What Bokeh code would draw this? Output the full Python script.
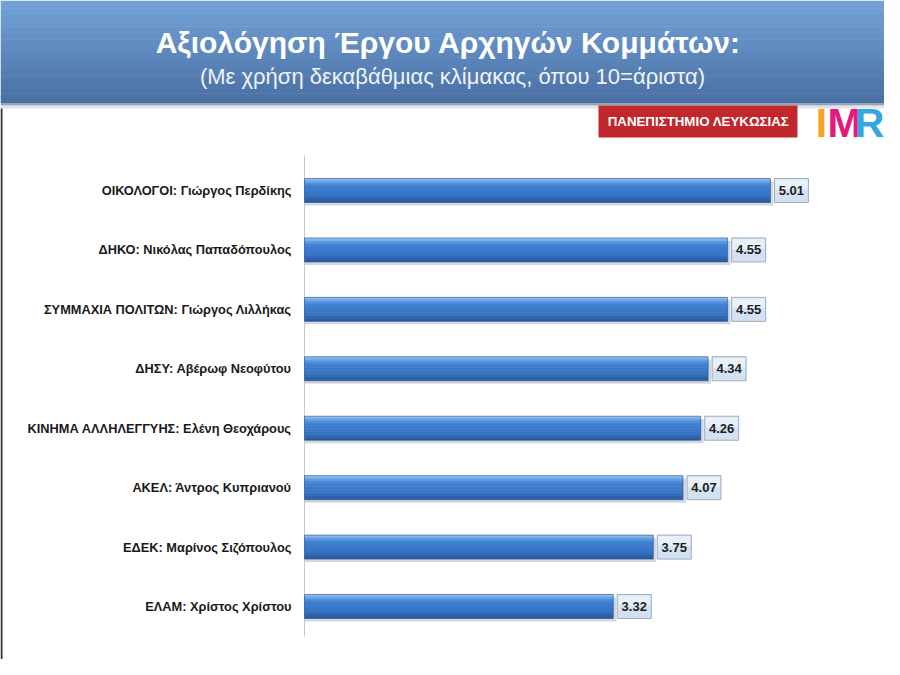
from bokeh.plotting import figure
from bokeh.models import Range1d
from bokeh.core.properties import value
from bokeh.embed import file_html
from bokeh.resources import INLINE

# ---- data ----
categories = [
    "ΟΙΚΟΛΟΓΟΙ: Γιώργος Περδίκης",
    "ΔΗΚΟ: Νικόλας Παπαδόπουλος",
    "ΣΥΜΜΑΧΙΑ ΠΟΛΙΤΩΝ: Γιώργος Λιλλήκας",
    "ΔΗΣΥ: Αβέρωφ Νεοφύτου",
    "ΚΙΝΗΜΑ ΑΛΛΗΛΕΓΓΥΗΣ: Ελένη Θεοχάρους",
    "ΑΚΕΛ: Άντρος Κυπριανού",
    "ΕΔΕΚ: Μαρίνος Σιζόπουλος",
    "ΕΛΑΜ: Χρίστος Χρίστου",
]
scores = [5.01, 4.55, 4.55, 4.34, 4.26, 4.07, 3.75, 3.32]
title_text = "Αξιολόγηση  Έργου Αρχηγών Κομμάτων:"
subtitle_text = "(Με χρήση δεκαβάθμιας κλίμακας, όπου 10=άριστα)"
badge_text = "ΠΑΝΕΠΙΣΤΗΜΙΟ ΛΕΥΚΩΣΙΑΣ"
logo_letters = ["I", "M", "R"]
logo_colors = ["#f6a623", "#e5197c", "#35a7df"]

# ---- geometry (pixel -> data helpers) ----
W, H = 884, 659
X0 = 304           # pixel x of value 0
PX_PER_UNIT = 93.0
ROW0 = 190         # pixel y of first row center
ROW_STEP = 59.43

def dx(px):
    return (px - X0) / PX_PER_UNIT

def dy(py):
    return (py - ROW0) / ROW_STEP

ux = 1.0 / PX_PER_UNIT
uy = 1.0 / ROW_STEP

p = figure(width=W, height=H, output_backend="svg", toolbar_location=None,
           x_range=Range1d(dx(0), dx(W)),
           y_range=Range1d(dy(H), dy(0)),
           min_border=0, background_fill_color="white",
           border_fill_color="white", outline_line_color=None)
p.axis.visible = False
p.grid.visible = False

xl, xr = dx(0), dx(W)

def mix(c1, c2, t):
    return "#%02x%02x%02x" % tuple(int(round(c1[j] + (c2[j] - c1[j]) * t)) for j in range(3))

# header gradient band
top_c = (0x72, 0xA2, 0xD8)
bot_c = (0x4A, 0x6F, 0xA3)
n = 40
h_top, h_bot = 0, 103
tops, bots, cols = [], [], []
for k in range(n):
    t = k / (n - 1)
    y1 = h_top + (h_bot - h_top) * k / n
    y2 = h_top + (h_bot - h_top) * (k + 1) / n + 0.6
    tops.append(dy(y1)); bots.append(dy(min(y2, h_bot))); cols.append(mix(top_c, bot_c, t))
p.quad(left=xl, right=xr, top=tops, bottom=bots, fill_color=cols, line_color=None)
# header shadow
p.quad(left=xl, right=xr, top=dy(103), bottom=dy(105), fill_color="#7d8ca2", line_color=None, fill_alpha=0.8)
p.quad(left=xl, right=xr, top=dy(105), bottom=dy(108), fill_color="#cdd3dc", line_color=None, fill_alpha=0.6)

p.text(x=[dx(452)], y=[dy(42)], text=[title_text],
       text_font=value("Liberation Sans"), text_font_style="bold", text_font_size="30px",
       text_color="white", text_align="center", text_baseline="middle")
p.text(x=[dx(452)], y=[dy(76)], text=[subtitle_text],
       text_font=value("Liberation Sans"), text_font_size="22px",
       text_color="#eef3fa", text_align="center", text_baseline="middle")

# left page border
p.segment(x0=[dx(1)], y0=[dy(108)], x1=[dx(1)], y1=[dy(H)], line_color="#333333", line_width=2)

# badge
p.quad(left=dx(598), right=dx(797), top=dy(105), bottom=dy(137), fill_color="#c1272d", line_color=None)
p.text(x=[dx(698)], y=[dy(121)], text=[badge_text], text_font=value("Liberation Sans"),
       text_font_style="bold", text_font_size="13.3px", text_color="white",
       text_align="center", text_baseline="middle")
# IMR logo
lx = [dx(821), dx(844), dx(869)]
p.text(x=lx, y=[dy(122)] * 3, text=logo_letters, text_color=logo_colors,
       text_font=value("Liberation Sans"), text_font_style="bold", text_font_size="41px",
       text_align="center", text_baseline="middle")

# axis line
p.segment(x0=[0], y0=[dy(155)], x1=[0], y1=[dy(636)], line_color="#c8c8c8", line_width=1)

rows = list(range(len(categories)))
# shadow
p.quad(left=[0] * len(rows), right=[s + 3 * ux for s in scores],
       top=[r - 9 * uy for r in rows], bottom=[r + 15 * uy for r in rows],
       fill_color="#b8bec8", fill_alpha=0.6, line_color=None)
# bar gradient layers
stops = [(0.0, (0x9c, 0xc8, 0xf2)), (0.12, (0x6a, 0xa4, 0xe6)), (0.3, (0x3f, 0x80, 0xd2)),
         (0.7, (0x37, 0x74, 0xc4)), (1.0, (0x26, 0x55, 0x96))]
def grad(t):
    for (t1, c1), (t2, c2) in zip(stops[:-1], stops[1:]):
        if t <= t2:
            return mix(c1, c2, (t - t1) / (t2 - t1))
    return mix(stops[-1][1], stops[-1][1], 0)
nb = 16
for k in range(nb):
    a = -12 + 24 * k / nb
    b = -12 + 24 * (k + 1) / nb + (0.5 if k < nb - 1 else 0)
    c = grad((k + 0.5) / nb)
    p.quad(left=[0] * len(rows), right=scores,
           top=[r + a * uy for r in rows], bottom=[r + b * uy for r in rows],
           fill_color=c, line_color=None)
p.quad(left=[0] * len(rows), right=scores, top=[r - 12 * uy for r in rows],
       bottom=[r + 12 * uy for r in rows], fill_color=None, line_color="#2f5f9c", line_width=0.7)

# value boxes
p.quad(left=[s + 4 * ux for s in scores], right=[s + 38 * ux for s in scores],
       top=[r - 12 * uy for r in rows], bottom=[r + 12 * uy for r in rows],
       fill_color="#d3e1f2", line_color="#9fadbf", line_width=1)
p.quad(left=[s + 5 * ux for s in scores], right=[s + 37 * ux for s in scores],
       top=[r - 11 * uy for r in rows], bottom=[r - 1 * uy for r in rows],
       fill_color="#e8f0fa", line_color=None)
p.text(x=[s + 21 * ux for s in scores], y=rows, text=["%.2f" % s for s in scores],
       text_font=value("Liberation Sans"), text_font_style="bold", text_font_size="13px",
       text_color="#1e1e1e", text_align="center", text_baseline="middle")

# category labels
p.text(x=[dx(291)] * len(rows), y=rows, text=categories,
       text_font=value("Liberation Sans"), text_font_style="bold", text_font_size="12.8px",
       text_color="#1a1a1a", text_align="right", text_baseline="middle")

open("out.html", "w").write(file_html(p, INLINE))
